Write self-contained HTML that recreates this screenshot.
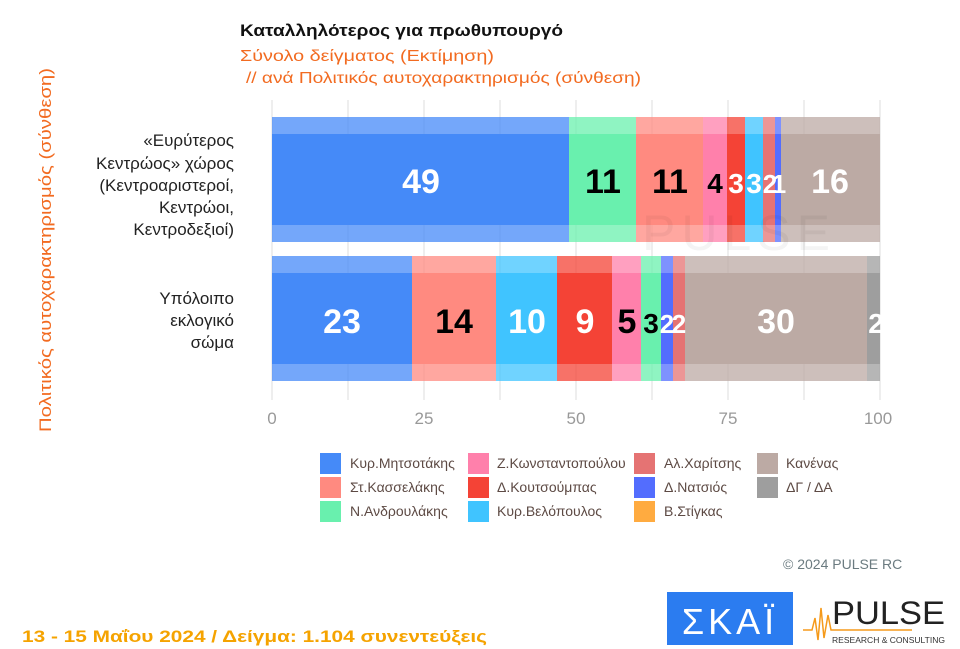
<!DOCTYPE html>
<html><head><meta charset="utf-8"><style>
body{margin:0;background:#fff;}
svg{display:block;font-family:"Liberation Sans",sans-serif;}
</style></head><body>
<svg width="960" height="649" viewBox="0 0 960 649" xmlns="http://www.w3.org/2000/svg">
<rect width="960" height="649" fill="#fff"/>
<text x="240" y="36" font-size="17" font-weight="bold" fill="#111" textLength="323" lengthAdjust="spacingAndGlyphs">Καταλληλότερος για πρωθυπουργό</text>
<text x="240" y="61" font-size="16" fill="#f26b21" textLength="254" lengthAdjust="spacingAndGlyphs">Σύνολο δείγματος   (Εκτίμηση)</text>
<text x="246" y="83" font-size="16" fill="#f26b21" textLength="395" lengthAdjust="spacingAndGlyphs">// ανά Πολιτικός αυτοχαρακτηρισμός (σύνθεση)</text>
<text transform="translate(51,432) rotate(-90)" font-size="17" fill="#f26b21" textLength="364" lengthAdjust="spacingAndGlyphs">Πολιτικός αυτοχαρακτηρισμός (σύνθεση)</text>
<g stroke="#ddd" stroke-width="1">
<line x1="272" y1="100" x2="272" y2="400"/><line x1="348" y1="100" x2="348" y2="400"/><line x1="424" y1="100" x2="424" y2="400"/><line x1="500" y1="100" x2="500" y2="400"/><line x1="576" y1="100" x2="576" y2="400"/><line x1="652" y1="100" x2="652" y2="400"/><line x1="728" y1="100" x2="728" y2="400"/><line x1="804" y1="100" x2="804" y2="400"/><line x1="880" y1="100" x2="880" y2="400"/>
</g>
<g font-size="17" fill="#999" text-anchor="middle">
<text x="272" y="424">0</text><text x="424" y="424">25</text><text x="576" y="424">50</text><text x="728" y="424">75</text><text x="878" y="424">100</text>
</g>
<g>
<rect x="272" y="117" width="297" height="125" fill="#458af8" opacity="0.75"/><rect x="272" y="134" width="297" height="91" fill="#458af8"/>
<rect x="569" y="117" width="67" height="125" fill="#69f0ae" opacity="0.75"/><rect x="569" y="134" width="67" height="91" fill="#69f0ae"/>
<rect x="636" y="117" width="67" height="125" fill="#ff8a80" opacity="0.75"/><rect x="636" y="134" width="67" height="91" fill="#ff8a80"/>
<rect x="703" y="117" width="24" height="125" fill="#ff80ab" opacity="0.75"/><rect x="703" y="134" width="24" height="91" fill="#ff80ab"/>
<rect x="727" y="117" width="18" height="125" fill="#f44336" opacity="0.75"/><rect x="727" y="134" width="18" height="91" fill="#f44336"/>
<rect x="745" y="117" width="18" height="125" fill="#40c4ff" opacity="0.75"/><rect x="745" y="134" width="18" height="91" fill="#40c4ff"/>
<rect x="763" y="117" width="12" height="125" fill="#e57373" opacity="0.75"/><rect x="763" y="134" width="12" height="91" fill="#e57373"/>
<rect x="775" y="117" width="6" height="125" fill="#536dfe" opacity="0.75"/><rect x="775" y="134" width="6" height="91" fill="#536dfe"/>
<rect x="781" y="117" width="99" height="125" fill="#bcaaa4" opacity="0.75"/><rect x="781" y="134" width="99" height="91" fill="#bcaaa4"/>
</g>
<g>
<rect x="272" y="256" width="140" height="125" fill="#458af8" opacity="0.75"/><rect x="272" y="273" width="140" height="91" fill="#458af8"/>
<rect x="412" y="256" width="84" height="125" fill="#ff8a80" opacity="0.75"/><rect x="412" y="273" width="84" height="91" fill="#ff8a80"/>
<rect x="496" y="256" width="61" height="125" fill="#40c4ff" opacity="0.75"/><rect x="496" y="273" width="61" height="91" fill="#40c4ff"/>
<rect x="557" y="256" width="55" height="125" fill="#f44336" opacity="0.75"/><rect x="557" y="273" width="55" height="91" fill="#f44336"/>
<rect x="612" y="256" width="29" height="125" fill="#ff80ab" opacity="0.75"/><rect x="612" y="273" width="29" height="91" fill="#ff80ab"/>
<rect x="641" y="256" width="20" height="125" fill="#69f0ae" opacity="0.75"/><rect x="641" y="273" width="20" height="91" fill="#69f0ae"/>
<rect x="661" y="256" width="12" height="125" fill="#536dfe" opacity="0.75"/><rect x="661" y="273" width="12" height="91" fill="#536dfe"/>
<rect x="673" y="256" width="12" height="125" fill="#e57373" opacity="0.75"/><rect x="673" y="273" width="12" height="91" fill="#e57373"/>
<rect x="685" y="256" width="182" height="125" fill="#bcaaa4" opacity="0.75"/><rect x="685" y="273" width="182" height="91" fill="#bcaaa4"/>
<rect x="867" y="256" width="13" height="125" fill="#9e9e9e" opacity="0.75"/><rect x="867" y="273" width="13" height="91" fill="#9e9e9e"/>
</g>
<text x="642" y="250" font-size="50" fill="#000" opacity="0.04" letter-spacing="6">PULSE</text>
<g font-size="34" font-weight="bold" text-anchor="middle">
<text x="421" y="193" fill="#fff">49</text>
<text x="603" y="193" fill="#000">11</text>
<text x="670" y="193" fill="#000">11</text>
<text x="715" y="193" fill="#000" font-size="28">4</text>
<text x="736" y="193" fill="#fff" font-size="28">3</text>
<text x="754" y="193" fill="#fff" font-size="28">3</text>
<text x="770" y="193" fill="#fff" font-size="26">2</text>
<text x="779" y="193" fill="#fff" font-size="26">1</text>
<text x="830" y="193" fill="#fff">16</text>
<text x="342" y="333" fill="#fff">23</text>
<text x="454" y="333" fill="#000">14</text>
<text x="527" y="333" fill="#fff">10</text>
<text x="585" y="333" fill="#fff">9</text>
<text x="627" y="333" fill="#000">5</text>
<text x="651" y="333" fill="#000" font-size="28">3</text>
<text x="667" y="333" fill="#fff" font-size="26">2</text>
<text x="679" y="333" fill="#fff" font-size="26">2</text>
<text x="776" y="333" fill="#fff">30</text>
<text x="876" y="333" fill="#fff" font-size="28">2</text>
</g>
<g font-size="17" fill="#222" text-anchor="end">
<text x="234" y="146">«Ευρύτερος</text>
<text x="234" y="169">Κεντρώος» χώρος</text>
<text x="234" y="191">(Κεντροαριστεροί,</text>
<text x="234" y="213">Κεντρώοι,</text>
<text x="234" y="235">Κεντροδεξιοί)</text>
<text x="234" y="304">Υπόλοιπο</text>
<text x="234" y="326">εκλογικό</text>
<text x="234" y="348">σώμα</text>
</g>
<g font-size="14" fill="#5d4a44">
<rect x="320" y="453" width="21" height="21" fill="#458af8"/><text x="350" y="468">Κυρ.Μητσοτάκης</text>
<rect x="320" y="477" width="21" height="21" fill="#ff8a80"/><text x="350" y="492">Στ.Κασσελάκης</text>
<rect x="320" y="501" width="21" height="21" fill="#69f0ae"/><text x="350" y="516">Ν.Ανδρουλάκης</text>
<rect x="468" y="453" width="21" height="21" fill="#ff80ab"/><text x="497" y="468">Ζ.Κωνσταντοπούλου</text>
<rect x="468" y="477" width="21" height="21" fill="#f44336"/><text x="497" y="492">Δ.Κουτσούμπας</text>
<rect x="468" y="501" width="21" height="21" fill="#40c4ff"/><text x="497" y="516">Κυρ.Βελόπουλος</text>
<rect x="634" y="453" width="21" height="21" fill="#e57373"/><text x="664" y="468">Αλ.Χαρίτσης</text>
<rect x="634" y="477" width="21" height="21" fill="#536dfe"/><text x="664" y="492">Δ.Νατσιός</text>
<rect x="634" y="501" width="21" height="21" fill="#ffab40"/><text x="664" y="516">Β.Στίγκας</text>
<rect x="757" y="453" width="21" height="21" fill="#bcaaa4"/><text x="786" y="468">Κανένας</text>
<rect x="757" y="477" width="21" height="21" fill="#9e9e9e"/><text x="786" y="492">ΔΓ / ΔΑ</text>
</g>
<text x="783" y="569" font-size="14" fill="#6b7b80">© 2024 PULSE RC</text>
<text x="22" y="642" font-size="17" font-weight="bold" fill="#f5a300" textLength="465" lengthAdjust="spacingAndGlyphs">13 - 15  Μαΐου 2024  /  Δείγμα:  1.104 συνεντεύξεις</text>
<rect x="667" y="592" width="126" height="53" fill="#2b7cf0"/>
<text x="730" y="634" font-size="36" fill="#fff" text-anchor="middle" letter-spacing="4">ΣΚΑΪ</text>
<polyline points="803,630 812,630 815,618 818,640 821,608 824,638 828,615 831,630 912,630" fill="none" stroke="#f59a1b" stroke-width="1.5"/>
<text x="832" y="624" font-size="32" fill="#222" textLength="113" lengthAdjust="spacingAndGlyphs">PULSE</text>
<text x="832" y="643" font-size="8" fill="#333" textLength="113" lengthAdjust="spacingAndGlyphs">RESEARCH &amp; CONSULTING</text>
</svg>
</body></html>
